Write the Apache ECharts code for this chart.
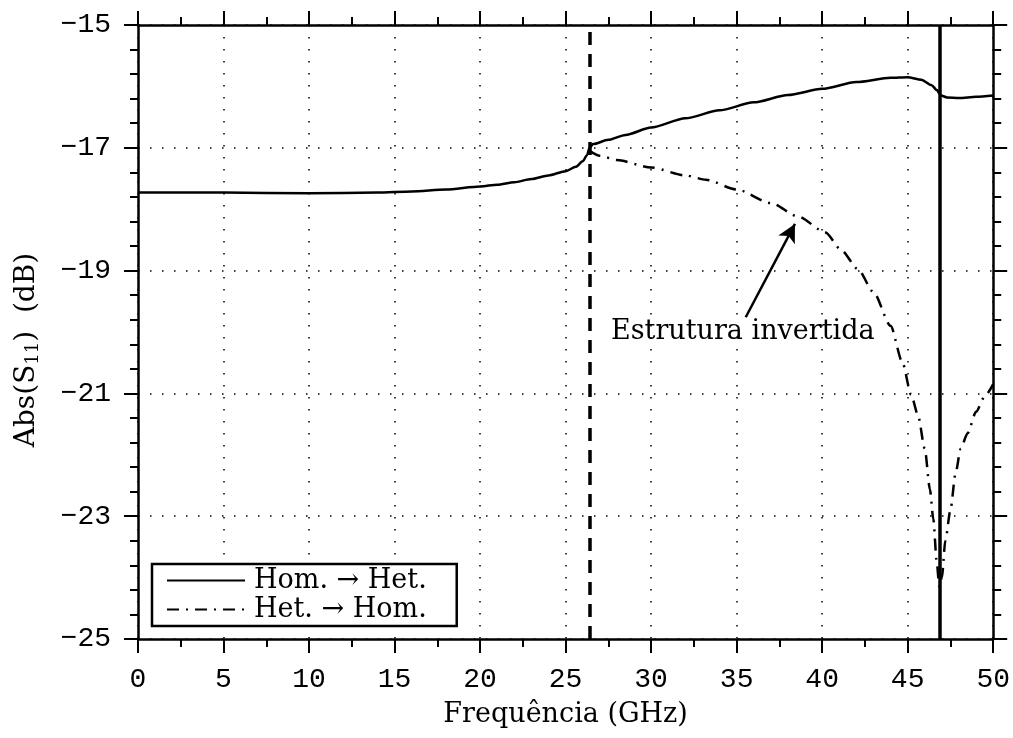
<!DOCTYPE html>
<html>
<head>
<meta charset="utf-8">
<script src="https://cdn.jsdelivr.net/npm/echarts@6/dist/echarts.min.js"></script>
<style>html,body{margin:0;padding:0;background:#fff;}#c{width:1013px;height:738px;}</style>
</head>
<body>
<div id="c"></div>
<script>
// ---- data ----
const freqA = [0,5,10,14,16,18,20,21,22,23,24,25,25.6,26.0,26.25,26.4,26.6,27.5,28.5,30,32,34,36,38,40,42,44,45,45.8,46.4,46.7,46.95,47.3,48,49,50];
const s11A  = [-17.73,-17.73,-17.74,-17.73,-17.71,-17.68,-17.63,-17.60,-17.56,-17.51,-17.45,-17.38,-17.31,-17.22,-17.12,-17.0,-16.94,-16.87,-16.79,-16.67,-16.52,-16.39,-16.26,-16.14,-16.04,-15.93,-15.86,-15.85,-15.89,-15.98,-16.06,-16.15,-16.18,-16.19,-16.17,-16.15];
const freqB = [26.4,27,28,30,32,33.2,35,37,38.6,40.2,41.1,42.1,43,44,44.7,45.2,45.6,46.0,46.3,46.5,46.7,46.85,47.0,47.2,47.5,47.8,48.1,48.5,49.0,49.5,50];
const s11B  = [-17.05,-17.13,-17.2,-17.32,-17.45,-17.52,-17.68,-17.9,-18.12,-18.38,-18.66,-18.98,-19.35,-19.9,-20.5,-21.02,-21.35,-21.9,-22.56,-23.05,-23.75,-24.15,-24.0,-23.4,-22.9,-22.3,-21.9,-21.65,-21.3,-21.05,-20.85];
const seriesNames = ['Hom. \u2192 Het.', 'Het. \u2192 Hom.'];
const xTicks = [0,5,10,15,20,25,30,35,40,45,50];
const yTicks = [-15,-17,-19,-21,-23,-25];
const dashedMarkerX = 26.4;
const solidMarkerX = 46.85;
const noteText = 'Estrutura invertida';
const notePos = [35.36, -20.0];
const arrowFrom = [35.53, -19.76];
const arrowTo = [38.41, -18.24];
// ---------------------------------------

const serif = '"DejaVu Serif", "Liberation Serif", serif';
const mono = '"Liberation Mono", "DejaVu Sans Mono", monospace';
const minus = v => String(v).replace('-', '\u2212');

const chart = echarts.init(document.getElementById('c'), null, {renderer: 'canvas'});
const axisCommon = {
  axisLine: {show: true, onZero: false, lineStyle: {color: '#000', width: 2.5}},
  axisTick: {show: true, inside: false, length: 14, lineStyle: {color: '#000', width: 2}},
  minorTick: {show: true, length: 8, lineStyle: {color: '#000', width: 2}},
};
const dotted = {color: '#000', width: 1.5, type: [1.5, 10.5]};

chart.setOption({
  animation: false,
  backgroundColor: '#fff',
  grid: {left: 138, right: 18, top: 25, bottom: 99, containLabel: false},
  xAxis: [
    Object.assign({}, axisCommon, {
      type: 'value', position: 'bottom', min: xTicks[0], max: xTicks[xTicks.length-1], interval: 5,
      minorTick: Object.assign({}, axisCommon.minorTick, {splitNumber: 2}),
      axisLabel: {color: '#000', fontFamily: mono, fontSize: 28, margin: 27, formatter: minus},
      splitLine: {show: true, lineStyle: dotted},
      name: 'Frequ\u00eancia (GHz)', nameLocation: 'middle', nameGap: 62,
      nameTextStyle: {color: '#000', fontFamily: serif, fontSize: 27}
    }),
    Object.assign({}, axisCommon, {
      type: 'value', position: 'top', min: xTicks[0], max: xTicks[xTicks.length-1], interval: 5,
      minorTick: Object.assign({}, axisCommon.minorTick, {splitNumber: 2}),
      axisLabel: {show: false}, splitLine: {show: false}
    })
  ],
  yAxis: [
    Object.assign({}, axisCommon, {
      type: 'value', position: 'left', min: yTicks[yTicks.length-1], max: yTicks[0], interval: 2,
      minorTick: Object.assign({}, axisCommon.minorTick, {splitNumber: 5}),
      axisLabel: {color: '#000', fontFamily: mono, fontSize: 28, margin: 27, formatter: minus},
      splitLine: {show: true, lineStyle: dotted},
      name: 'Abs(S{sub|11})  (dB)', nameLocation: 'middle', nameGap: 96, nameRotate: 90,
      nameTextStyle: {color: '#000', fontFamily: serif, fontSize: 28, padding: [0, 36, 0, 0],
        rich: {sub: {fontFamily: serif, fontSize: 18, verticalAlign: 'bottom', padding: [12, 0, 0, 0], color: '#000'}}}
    }),
    Object.assign({}, axisCommon, {
      type: 'value', position: 'right', min: yTicks[yTicks.length-1], max: yTicks[0], interval: 2,
      minorTick: Object.assign({}, axisCommon.minorTick, {splitNumber: 5}),
      axisLabel: {show: false}, splitLine: {show: false}
    })
  ],
  legend: {
    data: seriesNames,
    orient: 'vertical', left: 152, top: 564,
    backgroundColor: '#fff', borderColor: '#000', borderWidth: 2.5, borderRadius: 0,
    padding: [3, 30, 3, 14], itemGap: 2, itemWidth: 78, itemHeight: 14,
    itemStyle: {opacity: 0},
    textStyle: {color: '#000', fontFamily: serif, fontSize: 27, padding: [0, 0, 0, 4]}
  },
  series: [
    {
      name: seriesNames[0], type: 'line', symbol: 'none', z: 5, smooth: 0.25, smoothMonotone: 'x',
      data: freqA.map((f, i) => [f, s11A[i]]),
      lineStyle: {color: '#000', width: 2.5, type: 'solid'},
      itemStyle: {color: '#000'},
      markLine: {
        silent: true, symbol: ['none', 'none'], label: {show: false},
        lineStyle: {color: '#000', width: 3.5, type: 'solid'},
        data: [{xAxis: solidMarkerX}]
      }
    },
    {
      name: seriesNames[1], type: 'line', symbol: 'none', z: 4, smooth: 0.25, smoothMonotone: 'x',
      data: freqB.map((f, i) => [f, s11B[i]]),
      lineStyle: {color: '#000', width: 2.5, type: [12, 7, 2, 7]},
      itemStyle: {color: '#000'},
      markLine: {
        silent: true, symbol: ['none', 'none'], label: {show: false},
        lineStyle: {color: '#000', width: 3.5, type: [13, 9]},
        data: [{xAxis: dashedMarkerX}]
      }
    },
    {
      name: 'annotation', type: 'scatter', symbolSize: 0, z: 6,
      data: [notePos],
      itemStyle: {color: '#000', opacity: 1},
      label: {show: true, position: 'inside', formatter: noteText, color: '#000', opacity: 1,
        textBorderWidth: 0, fontFamily: serif, fontSize: 27},
      markLine: {
        silent: true, symbol: ['none', 'arrow'], symbolSize: [14, 18], label: {show: false},
        lineStyle: {color: '#000', width: 2.5, type: 'solid'},
        data: [[{coord: arrowFrom}, {coord: arrowTo}]]
      }
    }
  ]
});
</script>
</body>
</html>
